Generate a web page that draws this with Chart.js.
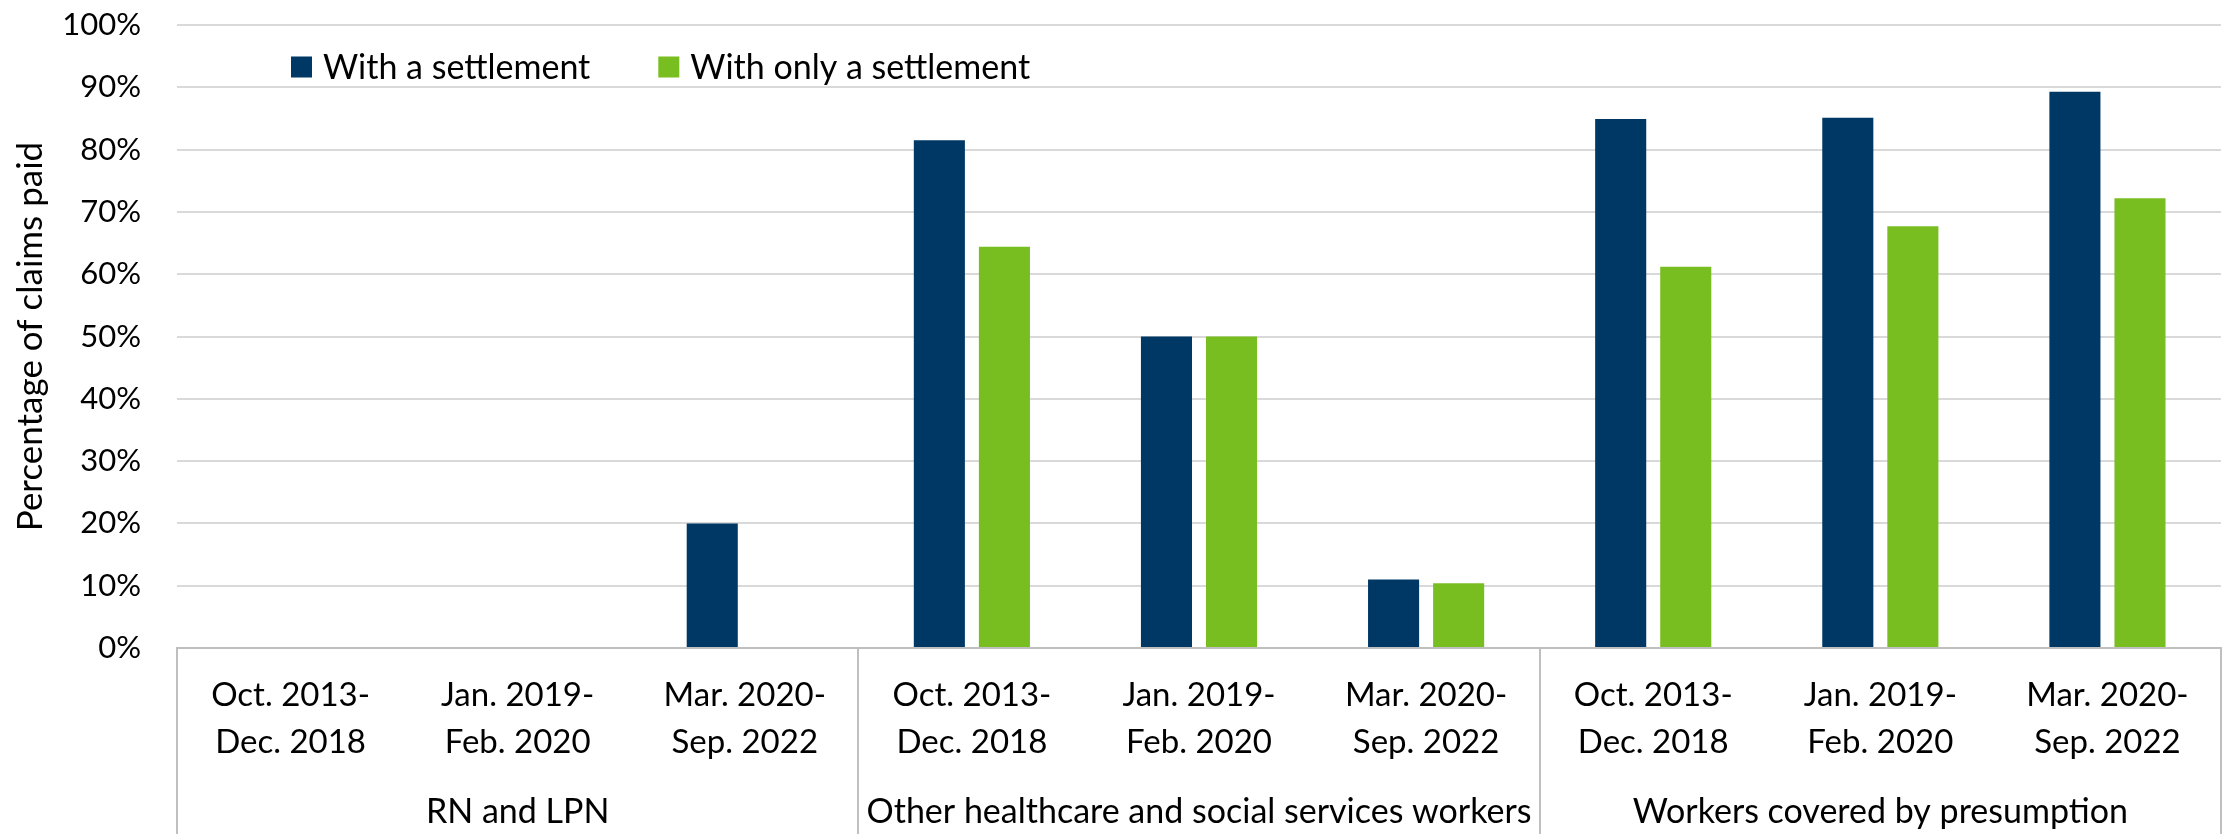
<!DOCTYPE html>
<html>
<head>
<meta charset="utf-8">
<script src="https://cdn.jsdelivr.net/npm/chart.js@4.4.1/dist/chart.umd.min.js"></script>
<style>
  html, body { margin: 0; padding: 0; background: #ffffff; }
  #wrap { width: 2226px; height: 834px; position: relative; }
</style>
</head>
<body>
<div id="wrap"><canvas id="c" width="2226" height="834"></canvas></div>
<script>
// ---- data ----
const periods = [
  ['Oct. 2013-', 'Dec. 2018'], ['Jan. 2019-', 'Feb. 2020'], ['Mar. 2020-', 'Sep. 2022'],
  ['Oct. 2013-', 'Dec. 2018'], ['Jan. 2019-', 'Feb. 2020'], ['Mar. 2020-', 'Sep. 2022'],
  ['Oct. 2013-', 'Dec. 2018'], ['Jan. 2019-', 'Feb. 2020'], ['Mar. 2020-', 'Sep. 2022']
];
const groups = ['RN and LPN', 'Other healthcare and social services workers', 'Workers covered by presumption'];
const seriesNames = ['With a settlement', 'With only a settlement'];
const withSettlement = [0, 0, 20, 81.5, 50, 11, 84.9, 85.1, 89.3];
const withOnlySettlement = [0, 0, 0, 64.4, 50, 10.4, 61.2, 67.7, 72.2];
const yTicks = [0, 10, 20, 30, 40, 50, 60, 70, 80, 90, 100];
const yTitle = 'Percentage of claims paid';

const NAVY = '#003865';
const GREEN = '#78BE21';
const FONT = 'Lato, "Open Sans", sans-serif';
const perGroup = periods.length / groups.length;

// legend drawn inside the plot area, built from dataset labels/colours
const insideLegend = {
  id: 'insideLegend',
  afterDraw(chart) {
    const ctx = chart.ctx;
    const area = chart.chartArea;
    ctx.save();
    ctx.font = '34px ' + FONT;
    ctx.textBaseline = 'middle';
    ctx.textAlign = 'left';
    let x = area.left + 114;
    const cy = area.top + 42;
    chart.data.datasets.forEach(ds => {
      ctx.fillStyle = ds.backgroundColor;
      ctx.fillRect(x, cy - 10.5, 21, 21);
      ctx.fillStyle = '#000000';
      ctx.fillText(ds.label, x + 32, cy + 1);
      x += 32 + ctx.measureText(ds.label).width + 68;
    });
    ctx.restore();
  }
};

new Chart(document.getElementById('c'), {
  type: 'bar',
  data: {
    labels: periods,
    datasets: [
      { label: seriesNames[0], data: withSettlement, backgroundColor: NAVY,
        categoryPercentage: 0.573, barPercentage: 0.785 },
      { label: seriesNames[1], data: withOnlySettlement, backgroundColor: GREEN,
        categoryPercentage: 0.573, barPercentage: 0.785 }
    ]
  },
  options: {
    responsive: false,
    devicePixelRatio: 1,
    animation: false,
    layout: { padding: { top: 25, right: 5, left: 0, bottom: 0 } },
    plugins: {
      legend: { display: false },
      tooltip: { enabled: false }
    },
    scales: {
      y: {
        min: 0, max: 100,
        afterBuildTicks(scale) { scale.ticks = yTicks.map(v => ({ value: v })); },
        afterFit(scale) { scale.width = 177; scale.paddingTop = 0; scale.paddingBottom = 0; },
        border: { display: false },
        grid: { color: '#d9d9d9', lineWidth: 2, drawTicks: false },
        ticks: {
          padding: 36, color: '#000000',
          font: { family: FONT, size: 31 },
          callback: v => v + '%'
        },
        title: {
          display: true, text: yTitle, color: '#000000',
          font: { family: FONT, size: 35 },
          padding: { top: 10, bottom: 0 }
        }
      },
      x: {
        afterFit(scale) { scale.height = 140; },
        border: { display: true, color: '#bfbfbf', width: 2 },
        grid: {
          drawOnChartArea: false, drawTicks: true, tickLength: 186, lineWidth: 2,
          color: '#bfbfbf',
          tickColor: c => (c.index === undefined || c.index % perGroup === 0) ? '#bfbfbf' : 'rgba(0,0,0,0)'
        },
        ticks: {
          autoSkip: false, maxRotation: 0, minRotation: 0,
          padding: 23.5 - 186, color: '#000000',
          font: { family: FONT, size: 33, lineHeight: 47 / 33 }
        }
      },
      x2: {
        type: 'category',
        position: 'bottom',
        labels: groups,
        offset: true,
        afterFit(scale) { scale.height = 46; },
        border: { display: false },
        grid: { display: false, drawTicks: false },
        ticks: {
          autoSkip: false, maxRotation: 0, minRotation: 0,
          padding: 4, color: '#000000',
          font: { family: FONT, size: 34, lineHeight: 1.2 }
        }
      }
    }
  },
  plugins: [insideLegend]
});
</script>
</body>
</html>
